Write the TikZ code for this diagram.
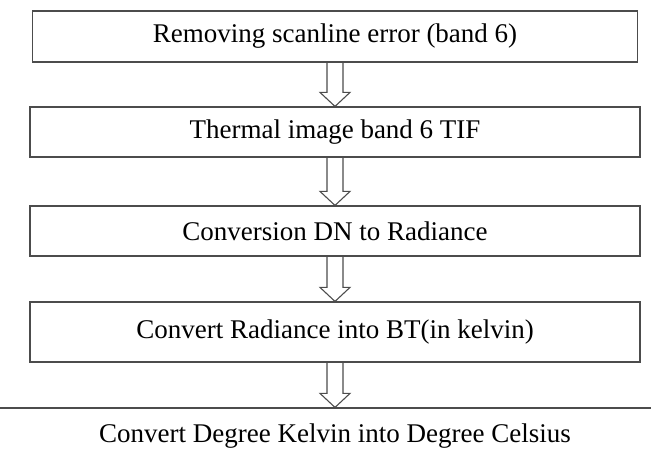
\documentclass[tikz,border=0pt]{standalone}
\usepackage{fontspec}
\setmainfont{Liberation Serif}
\usetikzlibrary{calc}
\begin{document}
\begin{tikzpicture}[x=1pt,y=-1pt]
          \tikzset{step box/.style={draw=black!70,line width=1.2pt,minimum width=#1,inner sep=0pt,
                   font=\fontsize{27}{32}\selectfont},
                   hollow arrow/.style={draw=black!70,line width=1.1pt,line join=miter}}
          \useasboundingbox (0,0) rectangle (651,456);

          \node [step box=605pt,minimum height=51pt] (scanline) at (335,36.5) {Removing scanline error (band 6)};
          \node [step box=610pt,minimum height=50pt] (thermal) at (335,132) {Thermal image band 6 TIF};
          \node [step box=610pt,minimum height=50pt] (radiance) at (335,231) {Conversion DN to Radiance};
          \node [step box=610pt,minimum height=60pt] (kelvin) at (335,332) {Convert Radiance into BT(in kelvin)};
          \node [step box=700pt,minimum height=54pt,text depth=4pt] (celsius) at (335,435) {Convert Degree Kelvin into Degree Celsius};

          \foreach \a/\b in {scanline/thermal,thermal/radiance,radiance/kelvin,kelvin/celsius}
            \draw [hollow arrow] ($(\a.south)+(-8,0)$) -- ($(\b.north)+(-8,-14)$) -- ($(\b.north)+(-15,-14)$)
              -- (\b.north) -- ($(\b.north)+(15,-14)$) -- ($(\b.north)+(8,-14)$) -- ($(\a.south)+(8,0)$);

        \end{tikzpicture}
\end{document}
